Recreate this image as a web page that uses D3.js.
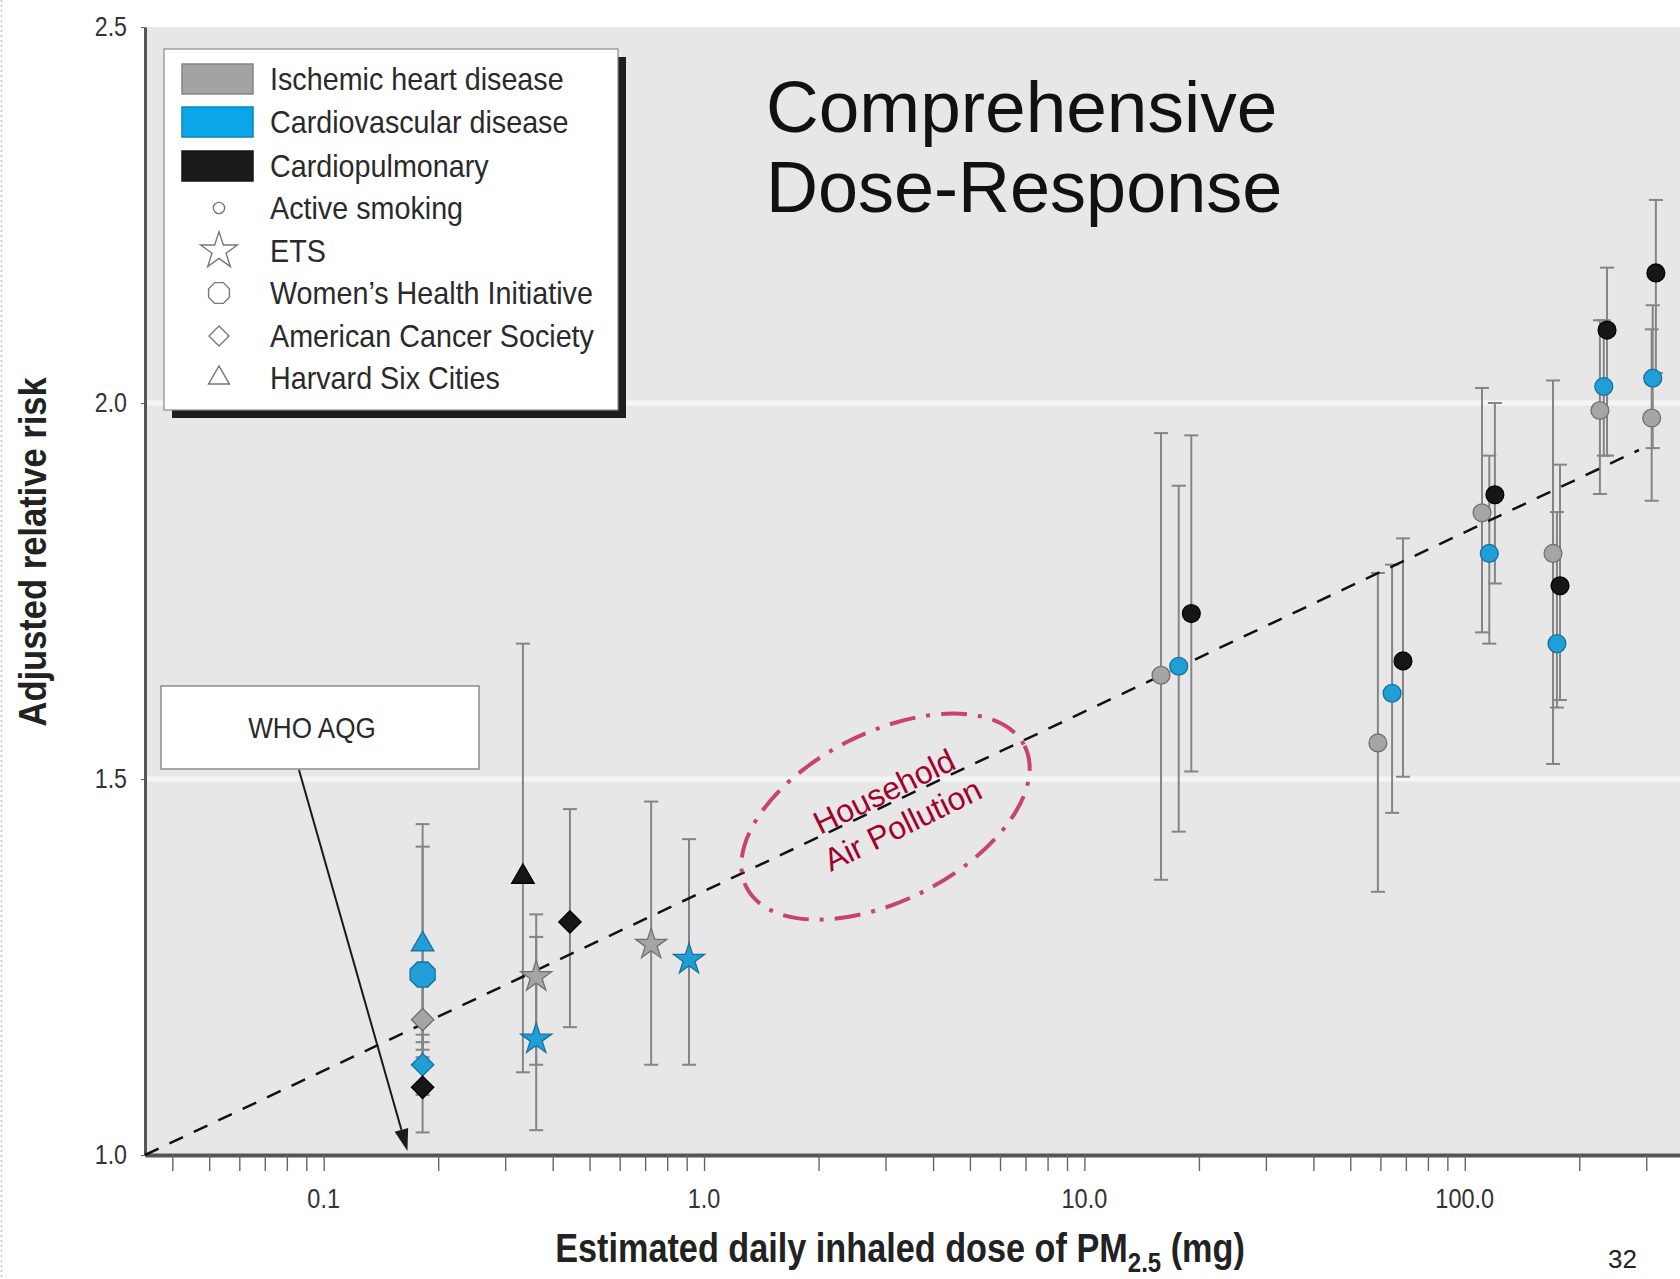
<!DOCTYPE html>
<html>
<head>
<meta charset="utf-8">
<script src="https://cdn.jsdelivr.net/npm/d3@7"></script>
<style>
  html, body { margin: 0; padding: 0; background: #ffffff; }
  svg { display: block; }
  .narrow { font-family: 'Liberation Sans', Arial, Helvetica, sans-serif; }
  .sans { font-family: 'Liberation Sans', Arial, Helvetica, sans-serif; }
</style>
</head>
<body>
<svg id="chart" width="1680" height="1279"></svg>
<script>
// ---- Data: estimated daily inhaled PM2.5 dose (mg) vs adjusted relative risk ----
const outcomes = ["Ischemic heart disease", "Cardiovascular disease", "Cardiopulmonary"];
const studies = ["Active smoking", "ETS", "Women\u2019s Health Initiative", "American Cancer Society", "Harvard Six Cities"];

const doseTicks = [0.1, 1, 10, 100];
const doseTickLabels = ["0.1", "1.0", "10.0", "100.0"];
const rrTicks = [1.0, 1.5, 2.0, 2.5];
const rrTickLabels = ["1.0", "1.5", "2.0", "2.5"];

// One entry per estimate (parallel arrays)
const pointDose = [0.182, 0.182, 0.182, 0.182, 0.182,
                   0.334, 0.362, 0.362, 0.444, 0.726, 0.913,
                   15.9, 17.7, 19.1,
                   59.1, 64.4, 68.8,
                   111, 116, 120,
                   170.6, 174.7, 178,
                   226.6, 232, 236.6,
                   310, 312, 318];
const pointRR = [1.28, 1.24, 1.18, 1.12, 1.09,
                 1.37, 1.237, 1.154, 1.31, 1.28, 1.26,
                 1.638, 1.65, 1.72,
                 1.548, 1.614, 1.657,
                 1.854, 1.80, 1.878,
                 1.80, 1.68, 1.757,
                 1.99, 2.022, 2.097,
                 1.98, 2.033, 2.173];
const pointLow = [1.13, 1.09, 1.14, 1.08, 1.03,
                  1.11, 1.12, 1.033, 1.17, 1.12, 1.12,
                  1.366, 1.43, 1.51,
                  1.35, 1.455, 1.503,
                  1.695, 1.68, 1.76,
                  1.52, 1.595, 1.605,
                  1.879, 1.93, 1.93,
                  1.87, 1.94, 2.04];
const pointHigh = [1.44, 1.41, 1.23, 1.15, 1.16,
                   1.68, 1.32, 1.29, 1.46, 1.47, 1.42,
                   1.96, 1.89, 1.957,
                   1.774, 1.785, 1.82,
                   2.02, 1.93, 2.0,
                   2.03, 1.855, 1.918,
                   2.11, 2.11, 2.18,
                   2.098, 2.13, 2.27];
// index into outcomes
const pointOutcome = [1, 1, 0, 1, 2,
                      2, 0, 1, 2, 0, 1,
                      0, 1, 2,
                      0, 1, 2,
                      0, 1, 2,
                      0, 1, 2,
                      0, 1, 2,
                      0, 1, 2];
// index into studies
const pointStudy = [4, 2, 3, 3, 3,
                    4, 1, 1, 3, 1, 1,
                    0, 0, 0,
                    0, 0, 0,
                    0, 0, 0,
                    0, 0, 0,
                    0, 0, 0,
                    0, 0, 0];

// Fitted dose-response trend (end points)
const fitDose = [0.0339, 287];
const fitRR = [1.0, 1.9375];

// Annotation anchors
const whoDose = 0.166;
const hapDose = 3.0;
const hapRR = 1.45;

// ---- Drawing ----
const svg = d3.select("#chart");
const W = 1680, H = 1279;
const plot = { left: 145, right: 1680, top: 27, bottom: 1155 };

const x = d3.scaleLog().domain([0.0339, 368]).range([plot.left, plot.right]);
const y = d3.scaleLinear().domain([1.0, 2.5]).range([plot.bottom, plot.top]);

const outcomeFill = d3.scaleOrdinal().domain(outcomes).range(["#a5a5a5", "#1f9fd6", "#161616"]);
const outcomeStroke = d3.scaleOrdinal().domain(outcomes).range(["#707070", "#16719c", "#000000"]);
const swatchFill = d3.scaleOrdinal().domain(outcomes).range(["#a3a3a3", "#0aa6e8", "#1b1b1b"]);

// squeeze text horizontally about its own x anchor (condensed type look)
function condense(sel, f) {
  sel.each(function () {
    const t = d3.select(this);
    const ax = +t.attr("x") || 0;
    t.attr("transform", `translate(${ax},0) scale(${f},1) translate(${-ax},0)`);
  });
}
function fitWidth(sel, target) {
  const bb = sel.node().getBBox();
  const cx = bb.x + bb.width / 2;
  const s = target / bb.width;
  sel.attr("transform", `translate(${cx},0) scale(${s},1) translate(${-cx},0)`);
}

// custom symbol shapes
const symbolOctagon = {
  draw(ctx, size) {
    const r = Math.sqrt(size / (2 * Math.SQRT2));
    for (let i = 0; i < 8; i++) {
      const a = Math.PI / 8 + i * Math.PI / 4;
      const px = r * Math.cos(a), py = r * Math.sin(a);
      if (i === 0) ctx.moveTo(px, py); else ctx.lineTo(px, py);
    }
    ctx.closePath();
  }
};
const symbolRhombus = {
  draw(ctx, size) {
    const r = Math.sqrt(size / 2);
    ctx.moveTo(0, -r); ctx.lineTo(r, 0); ctx.lineTo(0, r); ctx.lineTo(-r, 0); ctx.closePath();
  }
};
const studyShape = d3.scaleOrdinal().domain(studies)
  .range([d3.symbolCircle, d3.symbolStar, symbolOctagon, symbolRhombus, d3.symbolTriangle]);
const studySize = d3.scaleOrdinal().domain(studies).range([250, 300, 520, 250, 220]);

// page edge
svg.append("line").attr("x1", 1.5).attr("x2", 1.5).attr("y1", 0).attr("y2", H)
  .attr("stroke", "#c4c4c4").attr("stroke-width", 1.5).attr("stroke-dasharray", "2,3");

// plot panel
svg.append("rect")
  .attr("x", plot.left).attr("y", plot.top)
  .attr("width", plot.right - plot.left).attr("height", plot.bottom - plot.top)
  .attr("fill", "#e7e7e7");

// light gridlines
svg.append("g").selectAll("line").data([1.5, 2.0]).join("line")
  .attr("x1", plot.left + 2).attr("x2", plot.right)
  .attr("y1", d => y(d)).attr("y2", d => y(d))
  .attr("stroke", "#f5f5f5").attr("stroke-width", 5);

// x axis
const xAxis = svg.append("g").attr("transform", `translate(0,${plot.bottom})`)
  .call(d3.axisBottom(x).tickValues(x.ticks()).tickSizeInner(16).tickSizeOuter(0).tickFormat(""));
xAxis.select(".domain").attr("stroke", "#555").attr("stroke-width", 4);
xAxis.selectAll(".tick line").attr("stroke", "#666").attr("stroke-width", 1.4);

const xLabels = svg.append("g").selectAll("text").data(doseTicks).join("text")
  .attr("class", "narrow")
  .attr("x", d => x(d)).attr("y", plot.bottom + 53)
  .attr("text-anchor", "middle")
  .attr("font-size", 28).attr("fill", "#333")
  .text((d, i) => doseTickLabels[i]);
condense(xLabels, 0.84);

// y axis
const yAxis = svg.append("g").attr("transform", `translate(${plot.left},0)`)
  .call(d3.axisLeft(y).tickValues(rrTicks).tickSizeInner(4).tickSizeOuter(0).tickPadding(14)
    .tickFormat((d, i) => rrTickLabels[i]));
yAxis.select(".domain").attr("stroke", "#555").attr("stroke-width", 3);
yAxis.selectAll(".tick line").attr("stroke", "#666");
const yLabels = yAxis.selectAll(".tick text").attr("class", "narrow").attr("font-size", 27).attr("fill", "#333");
condense(yLabels, 0.86);

// axis titles, condensed to their printed widths
const xTitle = svg.append("text").attr("class", "narrow")
  .attr("x", 900).attr("y", 1262).attr("text-anchor", "middle")
  .attr("font-size", 40).attr("font-weight", "bold").attr("fill", "#222");
xTitle.append("tspan").text("Estimated daily inhaled dose of PM");
xTitle.append("tspan").attr("font-size", 28).attr("dy", 10).text("2.5");
xTitle.append("tspan").attr("dy", -10).text(" (mg)");
fitWidth(xTitle, 690);

const yTitleG = svg.append("g").attr("transform", "translate(46,552) rotate(-90)");
const yTitle = yTitleG.append("text").attr("class", "narrow")
  .attr("x", 0).attr("y", 0).attr("text-anchor", "middle")
  .attr("font-size", 38).attr("font-weight", "bold").attr("fill", "#222")
  .text("Adjusted relative risk");
fitWidth(yTitle, 350);

// error bars
const idx = d3.range(pointDose.length);
const capW = 7;
const bars = svg.append("g").attr("stroke", "#858585").attr("stroke-width", 2).attr("fill", "none");
bars.selectAll("line.v").data(idx).join("line").attr("class", "v")
  .attr("x1", i => x(pointDose[i])).attr("x2", i => x(pointDose[i]))
  .attr("y1", i => y(pointLow[i])).attr("y2", i => y(pointHigh[i]));
bars.selectAll("line.hi").data(idx).join("line").attr("class", "hi")
  .attr("x1", i => x(pointDose[i]) - capW).attr("x2", i => x(pointDose[i]) + capW)
  .attr("y1", i => y(pointHigh[i])).attr("y2", i => y(pointHigh[i]));
bars.selectAll("line.lo").data(idx).join("line").attr("class", "lo")
  .attr("x1", i => x(pointDose[i]) - capW).attr("x2", i => x(pointDose[i]) + capW)
  .attr("y1", i => y(pointLow[i])).attr("y2", i => y(pointLow[i]));

// fitted trend line
svg.append("path")
  .datum(d3.range(fitDose.length))
  .attr("d", d3.line().x(i => x(fitDose[i])).y(i => y(fitRR[i])))
  .attr("fill", "none").attr("stroke", "#111").attr("stroke-width", 2.5)
  .attr("stroke-dasharray", "15,12");

// markers
svg.append("g").selectAll("path").data(idx).join("path")
  .attr("transform", i => `translate(${x(pointDose[i])},${y(pointRR[i])})`)
  .attr("d", i => d3.symbol().type(studyShape(studies[pointStudy[i]])).size(studySize(studies[pointStudy[i]]))())
  .attr("fill", i => outcomeFill(outcomes[pointOutcome[i]]))
  .attr("stroke", i => outcomeStroke(outcomes[pointOutcome[i]]))
  .attr("stroke-width", 1.3);

// legend
const lg = svg.append("g");
const lgBox = { x: 164, y: 49, w: 454, h: 361 };
lg.append("rect").attr("x", lgBox.x + 8).attr("y", lgBox.y + 8).attr("width", lgBox.w).attr("height", lgBox.h)
  .attr("fill", "#1e1e1e");
lg.append("rect").attr("x", lgBox.x).attr("y", lgBox.y).attr("width", lgBox.w).attr("height", lgBox.h)
  .attr("fill", "#ffffff").attr("stroke", "#8a8a8a").attr("stroke-width", 1.2);

const rowY = [79, 122, 166, 208, 251, 293, 336, 378];
outcomes.forEach((o, i) => {
  lg.append("rect").attr("x", 182).attr("y", rowY[i] - 15).attr("width", 71).attr("height", 30)
    .attr("fill", swatchFill(o)).attr("stroke", d3.color(swatchFill(o)).darker(0.6)).attr("stroke-width", 1.5);
});
const legendSymSize = [100, 420, 360, 200, 190];
studies.forEach((s, i) => {
  lg.append("path")
    .attr("transform", `translate(219,${rowY[i + 3]})`)
    .attr("d", d3.symbol().type(studyShape(s)).size(legendSymSize[i])())
    .attr("fill", "#ffffff").attr("stroke", "#777").attr("stroke-width", 1.4);
});
const lgLabels = lg.selectAll("text.lab").data(outcomes.concat(studies)).join("text")
  .attr("class", "narrow lab")
  .attr("x", 270).attr("y", (d, i) => rowY[i])
  .attr("dy", "0.36em")
  .attr("font-size", 31).attr("fill", "#2a2a2a")
  .text(d => d);
// condense legend labels so the longest entry spans its printed width
const refW = lgLabels.filter(d => d === studies[3]).node().getComputedTextLength();
condense(lgLabels, 324 / refW);

// WHO AQG annotation
const who = svg.append("g");
const whoBox = { x: 161, y: 686, w: 318, h: 83 };
who.append("rect").attr("x", whoBox.x).attr("y", whoBox.y).attr("width", whoBox.w).attr("height", whoBox.h)
  .attr("fill", "#ffffff").attr("stroke", "#8a8a8a").attr("stroke-width", 1.5);
const whoText = who.append("text").attr("class", "narrow")
  .attr("x", 312).attr("y", whoBox.y + whoBox.h / 2).attr("dy", "0.36em")
  .attr("text-anchor", "middle").attr("font-size", 29).attr("fill", "#2a2a2a")
  .text("WHO AQG");
condense(whoText, 0.9);
const ax0 = 299, ay0 = whoBox.y + whoBox.h + 1;
const ax1 = x(whoDose), ay1 = y(1.0) - 4;
const ang = Math.atan2(ay1 - ay0, ax1 - ax0);
const headL = 22, headW = 7;
const bx = ax1 - headL * Math.cos(ang), by = ay1 - headL * Math.sin(ang);
who.append("line").attr("x1", ax0).attr("y1", ay0).attr("x2", bx).attr("y2", by)
  .attr("stroke", "#1a1a1a").attr("stroke-width", 2);
who.append("path")
  .attr("d", `M${ax1},${ay1} L${bx + headW * Math.sin(ang)},${by - headW * Math.cos(ang)} L${bx - headW * Math.sin(ang)},${by + headW * Math.cos(ang)} Z`)
  .attr("fill", "#1a1a1a");

// Household air pollution annotation
const hap = svg.append("g")
  .attr("transform", `translate(${x(hapDose)},${y(hapRR)})`);
hap.append("ellipse").attr("rx", 156).attr("ry", 84)
  .attr("transform", "rotate(-27)")
  .attr("fill", "none").attr("stroke", "#c7456d").attr("stroke-width", 4)
  .attr("stroke-dasharray", "26,11,4,11");
const hapText = hap.append("g").attr("transform", "translate(7,-8) rotate(-26)");
hapText.append("text").attr("class", "sans").attr("x", 0).attr("y", -8)
  .attr("text-anchor", "middle").attr("font-size", 32).attr("fill", "#a4002c")
  .text("Household");
hapText.append("text").attr("class", "sans").attr("x", 2).attr("y", 30)
  .attr("text-anchor", "middle").attr("font-size", 32).attr("fill", "#a4002c")
  .text("Air Pollution");

// title
const title = svg.append("g").attr("class", "sans").attr("fill", "#111");
title.append("text").attr("x", 766).attr("y", 132).attr("font-size", 73).text("Comprehensive");
title.append("text").attr("x", 766).attr("y", 212).attr("font-size", 72).text("Dose-Response");

// page number
svg.append("text").attr("class", "sans").attr("x", 1608).attr("y", 1268)
  .attr("font-size", 26).attr("fill", "#222").text("32");
</script>
</body>
</html>
